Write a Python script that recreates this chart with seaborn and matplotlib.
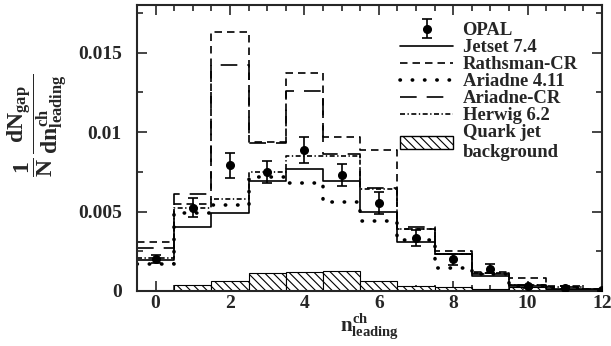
import numpy as np
import pandas as pd
import matplotlib
matplotlib.use("Agg")
import matplotlib.pyplot as plt
from matplotlib.lines import Line2D
from matplotlib.patches import Patch
from matplotlib.ticker import MultipleLocator
import seaborn as sns

# ---- data ----
n_leading = [0, 1, 2, 3, 4, 5, 6, 7, 8, 9, 10, 11, 12]
opal = [0.00204, 0.00525, 0.0079, 0.00747, 0.00887, 0.0073, 0.00556, 0.00334,
        0.0020, 0.00141, 0.0003, 0.0002, 0.00005]
opal_err = [0.00025, 0.0006, 0.0008, 0.0007, 0.0008, 0.0007, 0.0007, 0.0005,
            0.00035, 0.0003, 0.0001, 0.0001, 0.00003]
jetset = [0.00195, 0.0040, 0.0049, 0.0069, 0.0077, 0.0069, 0.0050, 0.0031,
          0.0023, 0.00093, 0.0003, 0.00015, 0.00005]
rathsman = [0.0031, 0.0055, 0.0163, 0.0094, 0.0137, 0.0097, 0.0089, 0.0039,
            0.0025, 0.0012, 0.0008, 0.0003, 0.0001]
ariadne = [0.0017, 0.0049, 0.0054, 0.0072, 0.0068, 0.0056, 0.0044, 0.0032,
           0.00145, 0.0011, 0.0003, 0.0002, 0.00005]
ariadne_cr = [0.0027, 0.0061, 0.0142, 0.0093, 0.0126, 0.0086, 0.0065, 0.0040,
              0.0023, 0.0011, 0.0004, 0.00025, 0.0001]
herwig = [0.0021, 0.0052, 0.0058, 0.0075, 0.0085, 0.0085, 0.0064, 0.0039,
          0.0023, 0.00115, 0.0004, 0.00025, 0.0001]
background = [0.00003, 0.00035, 0.00066, 0.00114, 0.0012, 0.00128, 0.0006,
              0.00032, 0.00025, 0.00015, 0.00025, 0.00015, 0.00003]

labels = ["OPAL", "Jetset 7.4", "Rathsman-CR", "Ariadne 4.11", "Ariadne-CR",
          "Herwig 6.2", "Quark jet\nbackground"]

# ---- style ----
sns.set_theme(style="ticks")
plt.rcParams["font.family"] = ["Liberation Serif", "DejaVu Serif"]
plt.rcParams["font.weight"] = "bold"
plt.rcParams["mathtext.fontset"] = "custom"
plt.rcParams["mathtext.rm"] = "Liberation Serif:bold"
plt.rcParams["mathtext.it"] = "Liberation Serif:bold"
plt.rcParams["mathtext.bf"] = "Liberation Serif:bold"
plt.rcParams["hatch.linewidth"] = 0.8
plt.rcParams["axes.linewidth"] = 1.5

fig = plt.figure(figsize=(6.11, 3.46), dpi=100)
ax = fig.add_axes([0.2242, 0.159, 0.7611, 0.8265])

centers = np.array(n_leading, dtype=float)
edges = list(np.append(centers - 0.5, centers[-1] + 0.5))

df = pd.DataFrame({
    "n": centers,
    "background": background,
    "Jetset 7.4": jetset,
    "Rathsman-CR": rathsman,
    "Ariadne 4.11": ariadne,
    "Ariadne-CR": ariadne_cr,
    "Herwig 6.2": herwig,
    "OPAL": opal,
    "err": opal_err,
})

# background (hatched bars)
sns.histplot(data=df, x="n", weights="background", bins=edges, element="bars",
             fill=True, ax=ax, color="white", edgecolor="black",
             linewidth=0.8, hatch="\\\\\\\\", alpha=1.0)

styles = {
    "Jetset 7.4": dict(linestyle="-", linewidth=1.2),
    "Rathsman-CR": dict(linestyle=(0, (4.5, 3)), linewidth=1.2),
    "Ariadne 4.11": dict(linestyle=(0, (0.1, 3.3)), linewidth=2.6,
                         dash_capstyle="round"),
    "Ariadne-CR": dict(linestyle=(0, (10, 6)), linewidth=1.2),
    "Herwig 6.2": dict(linestyle=(0, (3, 1.5, 0.8, 1.5)), linewidth=1.2),
}
for name in ["Jetset 7.4", "Rathsman-CR", "Ariadne 4.11", "Ariadne-CR", "Herwig 6.2"]:
    sns.histplot(data=df, x="n", weights=name, bins=edges, element="step",
                 fill=False, ax=ax, color="black", **styles[name])

# OPAL data points
eb = ax.errorbar(df["n"], df["OPAL"], yerr=df["err"], fmt="o", color="black",
                 markersize=5.5, elinewidth=1.2, capsize=3.5, capthick=1.2,
                 zorder=5)

# axes
ax.set_xlim(-0.5, 12)
ax.set_ylim(0, 0.018)
ax.xaxis.set_major_locator(MultipleLocator(2))
ax.xaxis.set_minor_locator(MultipleLocator(0.5))
ax.yaxis.set_major_locator(MultipleLocator(0.005))
ax.yaxis.set_minor_locator(MultipleLocator(0.0025))
ax.set_yticks([0, 0.005, 0.01, 0.015])
ax.set_yticklabels(["0", "0.005", "0.01", "0.015"])
ax.tick_params(which="both", direction="in", top=True, right=True,
               labelsize=14, width=1.2)
ax.tick_params(axis="y", pad=11)
ax.tick_params(axis="x", pad=3)
ax.tick_params(which="major", length=7)
ax.tick_params(which="minor", length=4)
for lab in ax.get_xticklabels() + ax.get_yticklabels():
    lab.set_fontweight("bold")

ax.set_xlabel(r"$n^{ch}_{leading}$", fontsize=15, labelpad=0)
ax.set_ylabel(r"$\dfrac{1}{N}\,\dfrac{dN_{gap}}{dn^{ch}_{leading}}$",
              fontsize=17)
ax.yaxis.set_label_coords(-0.145, 0.58)

# legend
handles = [eb]
for name in ["Jetset 7.4", "Rathsman-CR", "Ariadne 4.11", "Ariadne-CR", "Herwig 6.2"]:
    handles.append(Line2D([], [], color="black", **styles[name]))
handles.append(Patch(facecolor="white", edgecolor="black", hatch="\\\\\\\\",
                     linewidth=1.0))
leg = ax.legend(handles, labels, loc="upper left",
                bbox_to_anchor=(0.566, 0.94), frameon=False,
                prop=dict(family="Liberation Serif", weight="bold", size=13.4),
                handlelength=2.85, handletextpad=0.5, labelspacing=0.0,
                borderpad=0, borderaxespad=0)

fig.savefig("out.png", dpi=100)
